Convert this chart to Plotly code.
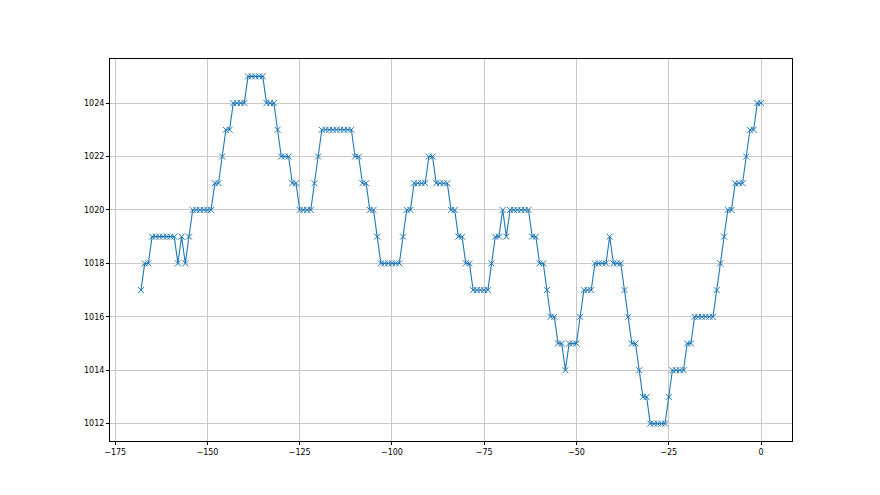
import plotly.graph_objects as go

# hours relative to now
hours = list(range(-168, 1))
pressure = [
    1017,
    1018, 1018,
    1019, 1019, 1019, 1019, 1019, 1019, 1019,
    1018, 1019, 1018, 1019,
    1020, 1020, 1020, 1020, 1020, 1020,
    1021, 1021,
    1022,
    1023, 1023,
    1024, 1024, 1024, 1024,
    1025, 1025, 1025, 1025, 1025,
    1024, 1024, 1024,
    1023,
    1022, 1022, 1022,
    1021, 1021,
    1020, 1020, 1020, 1020,
    1021,
    1022,
    1023, 1023, 1023, 1023, 1023, 1023, 1023, 1023, 1023,
    1022, 1022,
    1021, 1021,
    1020, 1020,
    1019,
    1018, 1018, 1018, 1018, 1018, 1018,
    1019,
    1020, 1020,
    1021, 1021, 1021, 1021,
    1022, 1022,
    1021, 1021, 1021, 1021,
    1020, 1020,
    1019, 1019,
    1018, 1018,
    1017, 1017, 1017, 1017, 1017,
    1018,
    1019, 1019,
    1020,
    1019,
    1020, 1020, 1020, 1020, 1020, 1020,
    1019, 1019,
    1018, 1018,
    1017,
    1016, 1016,
    1015, 1015,
    1014,
    1015, 1015, 1015,
    1016,
    1017, 1017, 1017,
    1018, 1018, 1018, 1018,
    1019,
    1018, 1018, 1018,
    1017,
    1016,
    1015, 1015,
    1014,
    1013, 1013,
    1012, 1012, 1012, 1012, 1012,
    1013,
    1014, 1014, 1014, 1014,
    1015, 1015,
    1016, 1016, 1016, 1016, 1016, 1016,
    1017,
    1018,
    1019,
    1020, 1020,
    1021, 1021, 1021,
    1022,
    1023, 1023,
    1024, 1024,
]

x_ticks = [-175, -150, -125, -100, -75, -50, -25, 0]
y_ticks = [1012, 1014, 1016, 1018, 1020, 1022, 1024]

fig = go.Figure()
fig.add_trace(go.Scatter(
    x=hours, y=pressure, mode="lines+markers",
    line=dict(color="#1f77b4", width=1.1),
    marker=dict(symbol="x-thin", size=6, color="#1f77b4",
                line=dict(width=1, color="#1f77b4")),
    showlegend=False,
))

axis_common = dict(
    showline=True, linecolor="black", linewidth=1, mirror=True,
    ticks="outside", ticklen=3, tickcolor="black", tickwidth=1,
    showgrid=True, gridcolor="#c8c8c8", gridwidth=1, zeroline=False,
    tickfont=dict(family="DejaVu Sans", size=8, color="black"),
)

fig.update_xaxes(range=[-176.4, 8.4], tickvals=x_ticks, **axis_common)
fig.update_yaxes(range=[1011.35, 1025.65], tickvals=y_ticks, **axis_common)

fig.update_layout(
    width=880, height=495,
    margin=dict(l=102, r=96, t=51, b=62),
    paper_bgcolor="white", plot_bgcolor="white",
    font=dict(family="DejaVu Sans", size=8, color="black"),
)

fig.write_html("out.html")
